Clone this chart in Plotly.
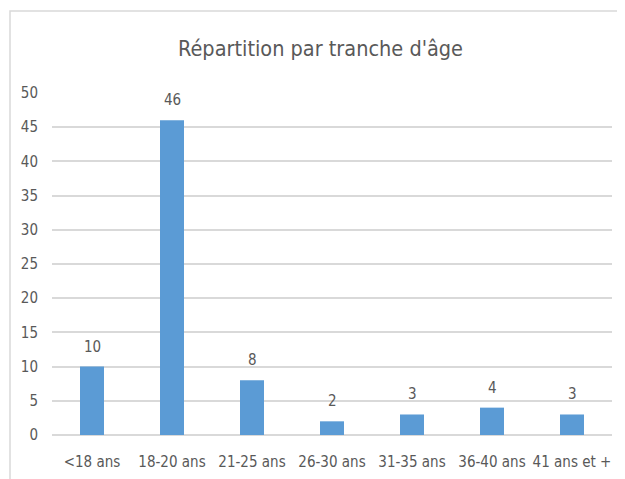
import plotly.graph_objects as go

categories = ["<18 ans", "18-20 ans", "21-25 ans", "26-30 ans", "31-35 ans", "36-40 ans", "41 ans et +"]
values = [10, 46, 8, 2, 3, 4, 3]
y_ticks = [0, 5, 10, 15, 20, 25, 30, 35, 40, 45, 50]

W, H = 625, 479
# the page puts the figure 8px in from the top left corner
L, R, T, B = 44, 21, 85, 52
pw, ph = W - L - R, H - T - B

font_fam = "Liberation Sans Narrow, DejaVu Sans Condensed, Open Sans"
grey = "#595959"

fig = go.Figure()
fig.add_trace(go.Bar(
    x=categories, y=values,
    marker_color="#5b9bd5",
    marker_line_width=0,
    hoverinfo="x+y",
))

# data labels, sitting a bit higher than plotly's "outside" text
for c, v in zip(categories, values):
    fig.add_annotation(x=c, y=v, text=str(v), showarrow=False,
                       yanchor="middle", yshift=20,
                       font=dict(size=15, color=grey, family=font_fam))

fig.update_layout(
    width=W, height=H,
    margin=dict(l=L, r=R, t=T, b=B),
    paper_bgcolor="white", plot_bgcolor="white",
    bargap=0.7,
    showlegend=False,
    font=dict(family=font_fam, color=grey, size=15),
    title=dict(text="Répartition par tranche d'âge", x=0.5, xanchor="center",
               y=1 - 40 / H, yanchor="middle", yref="container",
               font=dict(size=21.5, color=grey, family=font_fam)),
    xaxis=dict(showgrid=False, showline=False, ticks="", ticklen=0,
               tickfont=dict(size=15, color=grey), ticklabelstandoff=16),
    yaxis=dict(range=[0, 50], tickvals=y_ticks, showgrid=True, gridcolor="#d9d9d9",
               gridwidth=1.5, zeroline=True, zerolinecolor="#d9d9d9", zerolinewidth=1.5,
               showline=False, ticks="", tickfont=dict(size=15, color=grey),
               ticklabelstandoff=13),
)

# chart frame
fig.add_shape(type="rect", xref="paper", yref="paper",
              x0=(2 - L) / pw, x1=(W + 20 - L) / pw,
              y0=(H - B - (H + 20)) / ph, y1=(H - B - 3) / ph,
              line=dict(color="#d9d9d9", width=1.5), fillcolor="rgba(0,0,0,0)", layer="below")

fig.write_html("out.html")
